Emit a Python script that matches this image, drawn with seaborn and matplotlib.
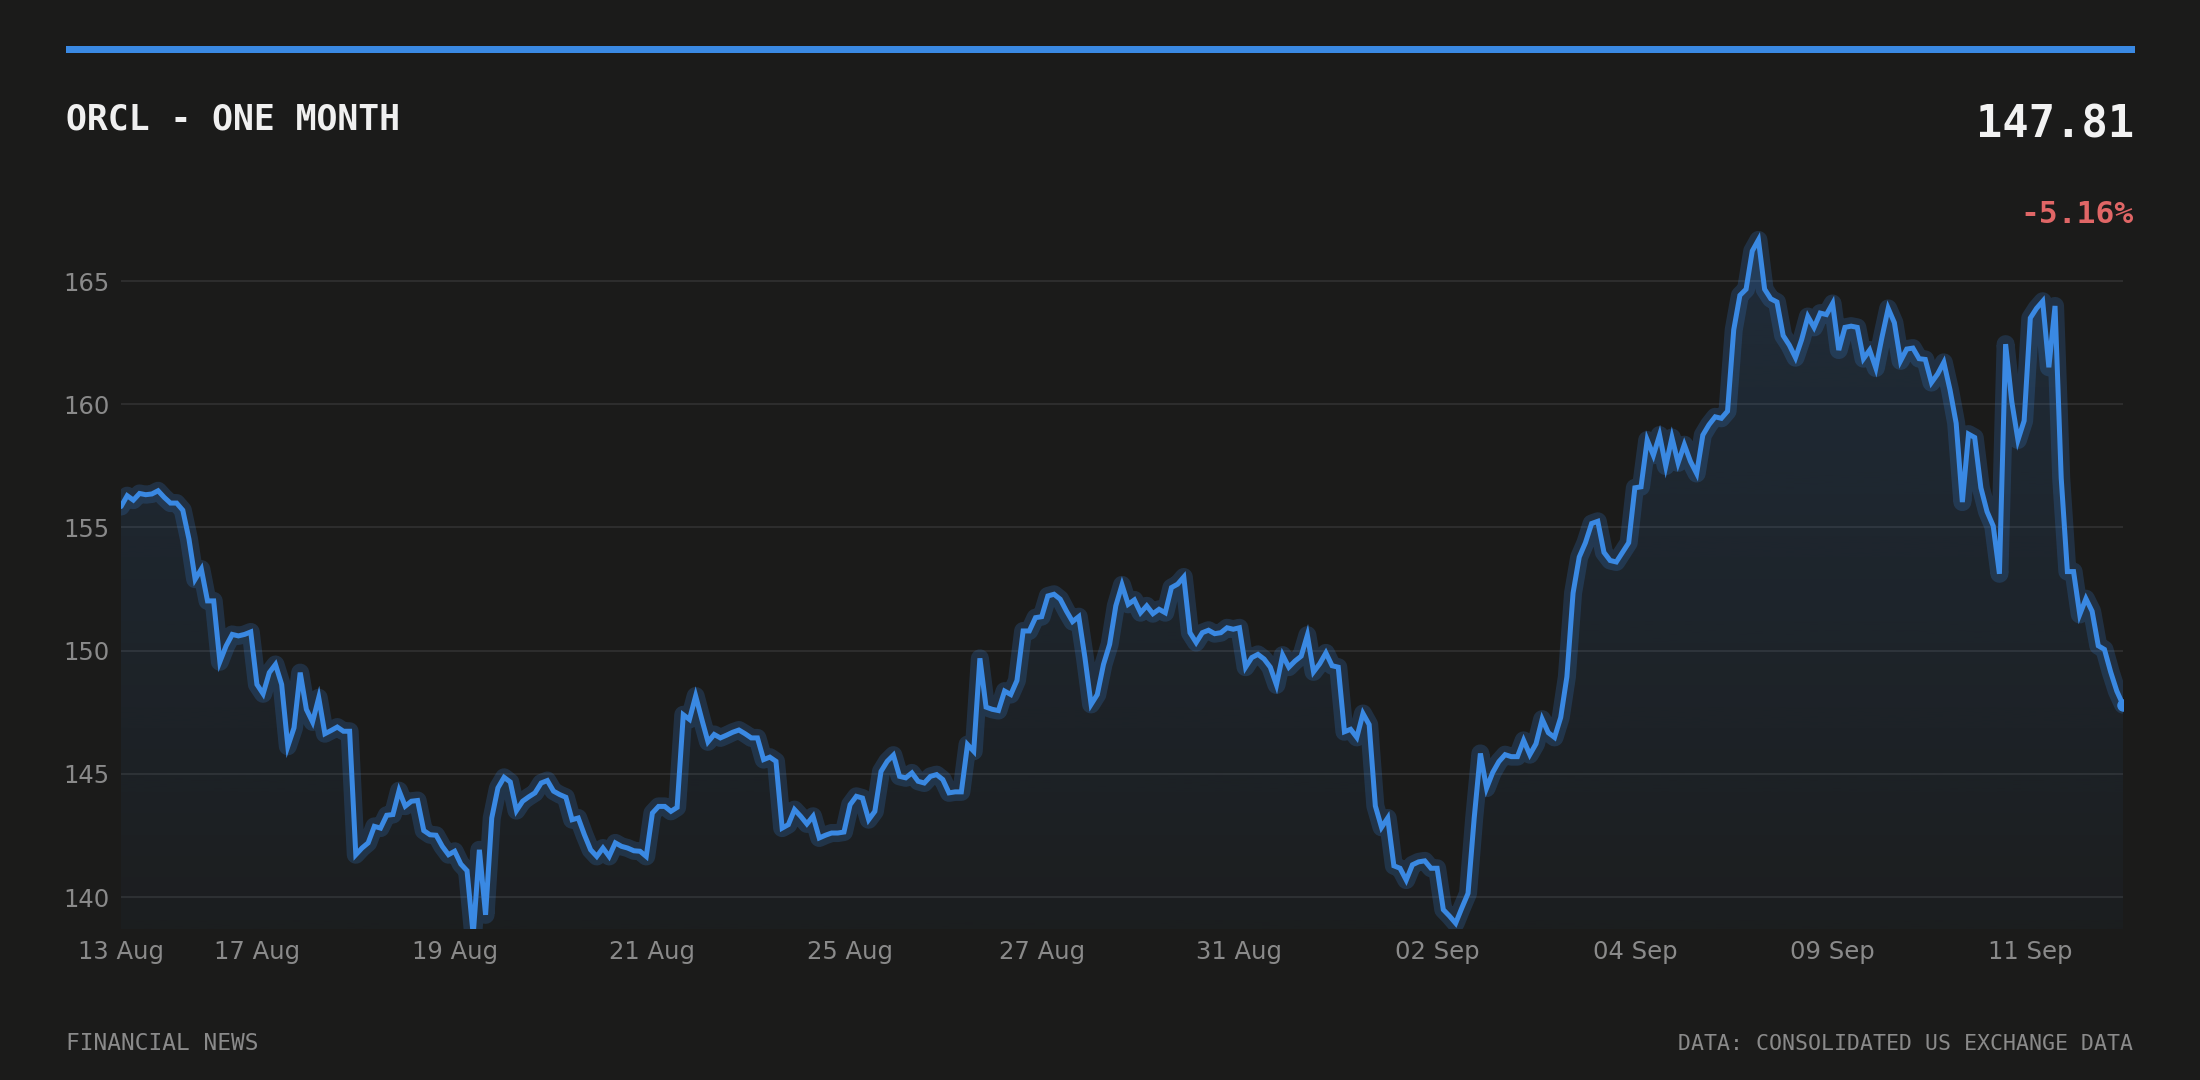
import numpy as np
import pandas as pd
import seaborn as sns
import matplotlib
matplotlib.use("Agg")
import matplotlib.pyplot as plt
from matplotlib.patches import Polygon, Rectangle

# ORCL one month, intraday closes
price = [
    155.85, 156.29, 156.11, 156.38, 156.33, 156.36, 156.49, 156.22, 155.99, 155.99,
    155.70, 154.53, 152.90, 153.31, 152.02, 152.02, 149.55, 150.19, 150.66, 150.60,
    150.66, 150.76, 148.63, 148.25, 149.11, 149.44, 148.63, 146.12, 146.87, 149.11,
    147.62, 147.11, 148.09, 146.63, 146.76, 146.90, 146.73, 146.73, 141.72, 141.99,
    142.20, 142.87, 142.80, 143.32, 143.35, 144.32, 143.69, 143.89, 143.92, 142.70,
    142.53, 142.51, 142.06, 141.72, 141.86, 141.34, 141.07, 138.47, 141.92, 139.28,
    143.21, 144.43, 144.86, 144.67, 143.51, 143.89, 144.07, 144.23, 144.63, 144.73,
    144.30, 144.16, 144.05, 143.14, 143.21, 142.53, 141.92, 141.65, 141.99, 141.65,
    142.20, 142.06, 141.99, 141.88, 141.86, 141.65, 143.41, 143.68, 143.68, 143.48,
    143.64, 147.40, 147.21, 148.16, 147.21, 146.30, 146.60, 146.46, 146.57, 146.69,
    146.78, 146.63, 146.46, 146.46, 145.58, 145.68, 145.51, 142.80, 142.94, 143.55,
    143.28, 142.97, 143.28, 142.40, 142.51, 142.60, 142.60, 142.64, 143.75, 144.09,
    144.02, 143.14, 143.48, 145.10, 145.51, 145.76, 144.90, 144.84, 145.04, 144.70,
    144.63, 144.90, 144.97, 144.77, 144.23, 144.27, 144.27, 146.19, 145.92, 149.69,
    147.71, 147.62, 147.57, 148.36, 148.22, 148.79, 150.80, 150.80, 151.34, 151.38,
    152.22, 152.29, 152.09, 151.61, 151.18, 151.38, 149.72, 147.82, 148.22, 149.44,
    150.26, 151.82, 152.67, 151.88, 152.06, 151.54, 151.82, 151.50, 151.68, 151.54,
    152.56, 152.70, 152.99, 150.73, 150.33, 150.73, 150.83, 150.69, 150.73, 150.93,
    150.87, 150.93, 149.33, 149.72, 149.85, 149.66, 149.33, 148.61, 149.82, 149.33,
    149.58, 149.78, 150.63, 149.14, 149.47, 149.91, 149.39, 149.33, 146.71, 146.81,
    146.48, 147.45, 147.00, 143.70, 142.83, 143.21, 141.27, 141.17, 140.69, 141.31,
    141.43, 141.47, 141.17, 141.17, 139.49, 139.23, 138.94, 139.56, 140.15, 143.21,
    145.83, 144.42, 145.06, 145.50, 145.78, 145.70, 145.70, 146.36, 145.78, 146.22,
    147.22, 146.67, 146.48, 147.29, 148.94, 152.34, 153.80, 154.38, 155.16, 155.25,
    153.99, 153.66, 153.60, 153.99, 154.38, 156.61, 156.65, 158.55, 157.93, 158.75,
    157.49, 158.65, 157.62, 158.36, 157.68, 157.19, 158.75, 159.17, 159.49, 159.43,
    159.72, 163.02, 164.42, 164.67, 166.22, 166.67, 164.67, 164.28, 164.15, 162.79,
    162.40, 161.89, 162.63, 163.56, 163.12, 163.70, 163.64, 164.09, 162.20, 163.12,
    163.17, 163.12, 161.85, 162.20, 161.47, 162.73, 163.89, 163.31, 161.76, 162.24,
    162.28, 161.85, 161.82, 160.88, 161.23, 161.70, 160.59, 159.23, 156.03, 158.79,
    158.65, 156.61, 155.64, 155.06, 153.12, 162.44, 160.11, 158.55, 159.33, 163.50,
    163.89, 164.18, 161.50, 163.99, 157.00, 153.21, 153.21, 151.47, 152.11, 151.60,
    150.20, 150.05, 149.14, 148.36, 147.81,
]
tick_pos = [0, 22, 54, 86, 118, 149, 181, 213, 245, 277, 309]
tick_labels = ["13 Aug", "17 Aug", "19 Aug", "21 Aug", "25 Aug", "27 Aug",
               "31 Aug", "02 Sep", "04 Sep", "09 Sep", "11 Sep"]
y_ticks = [140, 145, 150, 155, 160, 165]

BG = "#1b1b1a"
BLUE = "#3a89e3"
GREY = "#8a8a8a"
MONO = "DejaVu Sans Mono"

sns.set_theme(style="dark")
plt.rcParams["font.family"] = ["DejaVu Sans"]

df = pd.DataFrame({"idx": np.arange(len(price)), "price": price})
ylo, yhi = 138.7, 167.5

fig = plt.figure(figsize=(22, 10.8), dpi=100, facecolor=BG)
ax = fig.add_axes([0.055, 0.1397, 0.91, 0.6571])
ax.set_facecolor(BG)

# gradient fill under the line
verts = [(0, ylo)] + list(zip(df["idx"], df["price"])) + [(len(price) - 1, ylo)]
poly = Polygon(verts, closed=True, facecolor="none", edgecolor="none")
ax.add_patch(poly)
rgb = matplotlib.colors.to_rgb(BLUE)
grad = np.zeros((256, 1, 4))
grad[..., 0], grad[..., 1], grad[..., 2] = rgb
grad[..., 3] = np.linspace(0.03, 0.16, 256)[:, None]
im = ax.imshow(grad, extent=[0, len(price) - 1, ylo, yhi], origin="lower",
               aspect="auto", zorder=1)
im.set_clip_path(poly)

# glow + line
sns.lineplot(data=df, x="idx", y="price", ax=ax, color=BLUE, linewidth=13,
             alpha=0.2, zorder=2, solid_joinstyle="round")
sns.lineplot(data=df, x="idx", y="price", ax=ax, color=BLUE, linewidth=3.6,
             zorder=3, solid_joinstyle="miter")
ax.plot(df["idx"].iloc[-1], df["price"].iloc[-1], "o", color=BLUE,
        markersize=8, zorder=4)

ax.set_xlim(0, len(price) - 1)
ax.set_ylim(ylo, yhi)
ax.set_yticks(y_ticks)
ax.set_xticks(tick_pos)
ax.set_xticklabels(tick_labels)
ax.set_xlabel("")
ax.set_ylabel("")
ax.grid(axis="y", color="#333333", linewidth=1.1)
ax.grid(axis="x", visible=False)
ax.tick_params(axis="both", length=0, labelsize=17.5, colors=GREY)
ax.tick_params(axis="y", pad=8.5)
ax.tick_params(axis="x", pad=8)
for s in ax.spines.values():
    s.set_visible(False)

# header
fig.add_artist(Rectangle((66 / 2200, 1 - 53 / 1080), (2135 - 66) / 2200, 7 / 1080,
                         transform=fig.transFigure, color=BLUE, lw=0))
fig.text(66 / 2200, 1 - 129 / 1080, "ORCL - ONE MONTH", family=MONO,
         weight="bold", fontsize=25, color="#f0f0f0", va="baseline", ha="left")
fig.text(2134 / 2200, 1 - 137 / 1080, "147.81", family=MONO, weight="bold",
         fontsize=31.5, color="#f2f2f2", va="baseline", ha="right")
fig.text(2134 / 2200, 1 - 223 / 1080, "-5.16%", family=MONO, weight="bold",
         fontsize=22.5, color="#e06666", va="baseline", ha="right")

# footer
fig.text(66 / 2200, 1 - 1050 / 1080, "FINANCIAL NEWS", family=MONO,
         fontsize=16.5, color=GREY, va="baseline", ha="left")
fig.text(2133 / 2200, 1 - 1050 / 1080, "DATA: CONSOLIDATED US EXCHANGE DATA",
         family=MONO, fontsize=15.5, color=GREY, va="baseline", ha="right")

fig.savefig("out.png", dpi=100, facecolor=BG)
